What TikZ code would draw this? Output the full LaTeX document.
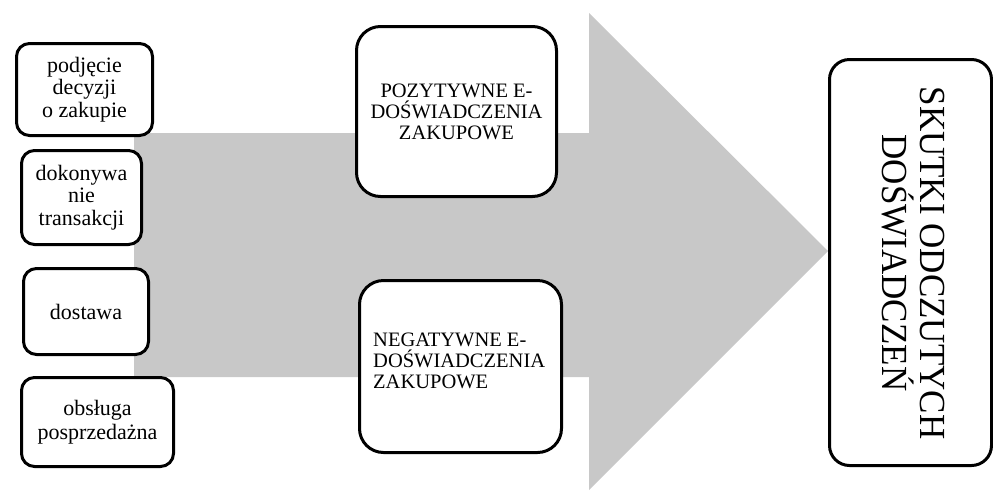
\documentclass[tikz,border=0pt]{standalone}
\usepackage{fontspec}
\setmainfont{Liberation Serif}
\begin{document}
\begin{tikzpicture}[x=1pt,y=-1pt,
  box/.style={draw=black,line width=3pt,fill=white,rounded corners=#1,inner sep=0pt,anchor=north west},
  box/.default=13pt,
  lefttxt/.style={font=\fontsize{22}{22.5}\selectfont,align=center},
  midtxt/.style={font=\fontsize{20.5}{21}\selectfont},
]
\useasboundingbox (0,0) rectangle (993,491);
% big arrow
\fill[fill={rgb,255:red,200;green,200;blue,200}] (134,133) -- (589,133) -- (589,13) -- (828,251) -- (589,490) -- (589,377) -- (134,377) -- cycle;
% left boxes
\node[box,minimum width=136pt,minimum height=92pt,lefttxt] (b1) at (15,42) {podjęcie\\decyzji\\o zakupie};
\node[box,minimum width=120pt,minimum height=94pt,lefttxt] (b2) at (20,149) {dokonywa\\nie\\transakcji};
\node[box,minimum width=125pt,minimum height=86pt,lefttxt] (b3) at (22,267) {dostawa};
\node[box,minimum width=152pt,minimum height=89pt,lefttxt,font=\fontsize{22}{24}\selectfont] (b4) at (20,376) {obsługa\\posprzedażna};
% middle boxes
\node[box=24pt,minimum width=200pt,minimum height=170pt,midtxt,align=center] (poz) at (355,25) {POZYTYWNE E-\\DOŚWIADCZENIA\\ZAKUPOWE};
\node[box=24pt,minimum width=202pt,minimum height=172pt] (neg) at (358,279) {};
\node[midtxt,align=left,anchor=north west,inner sep=0pt] (negtxt) at (373,333) {NEGATYWNE E-\\DOŚWIADCZENIA\\ZAKUPOWE};
% right box
\node[box=20pt,minimum width=162pt,minimum height=406pt] (res) at (828,58) {};
\node[rotate=-90,yscale=1.05,inner sep=0pt,align=center,font=\fontsize{35}{36}\selectfont] (restxt) at (913,263) {SKUTKI ODCZUTYCH\\DOŚWIADCZEŃ};
\end{tikzpicture}
\end{document}
